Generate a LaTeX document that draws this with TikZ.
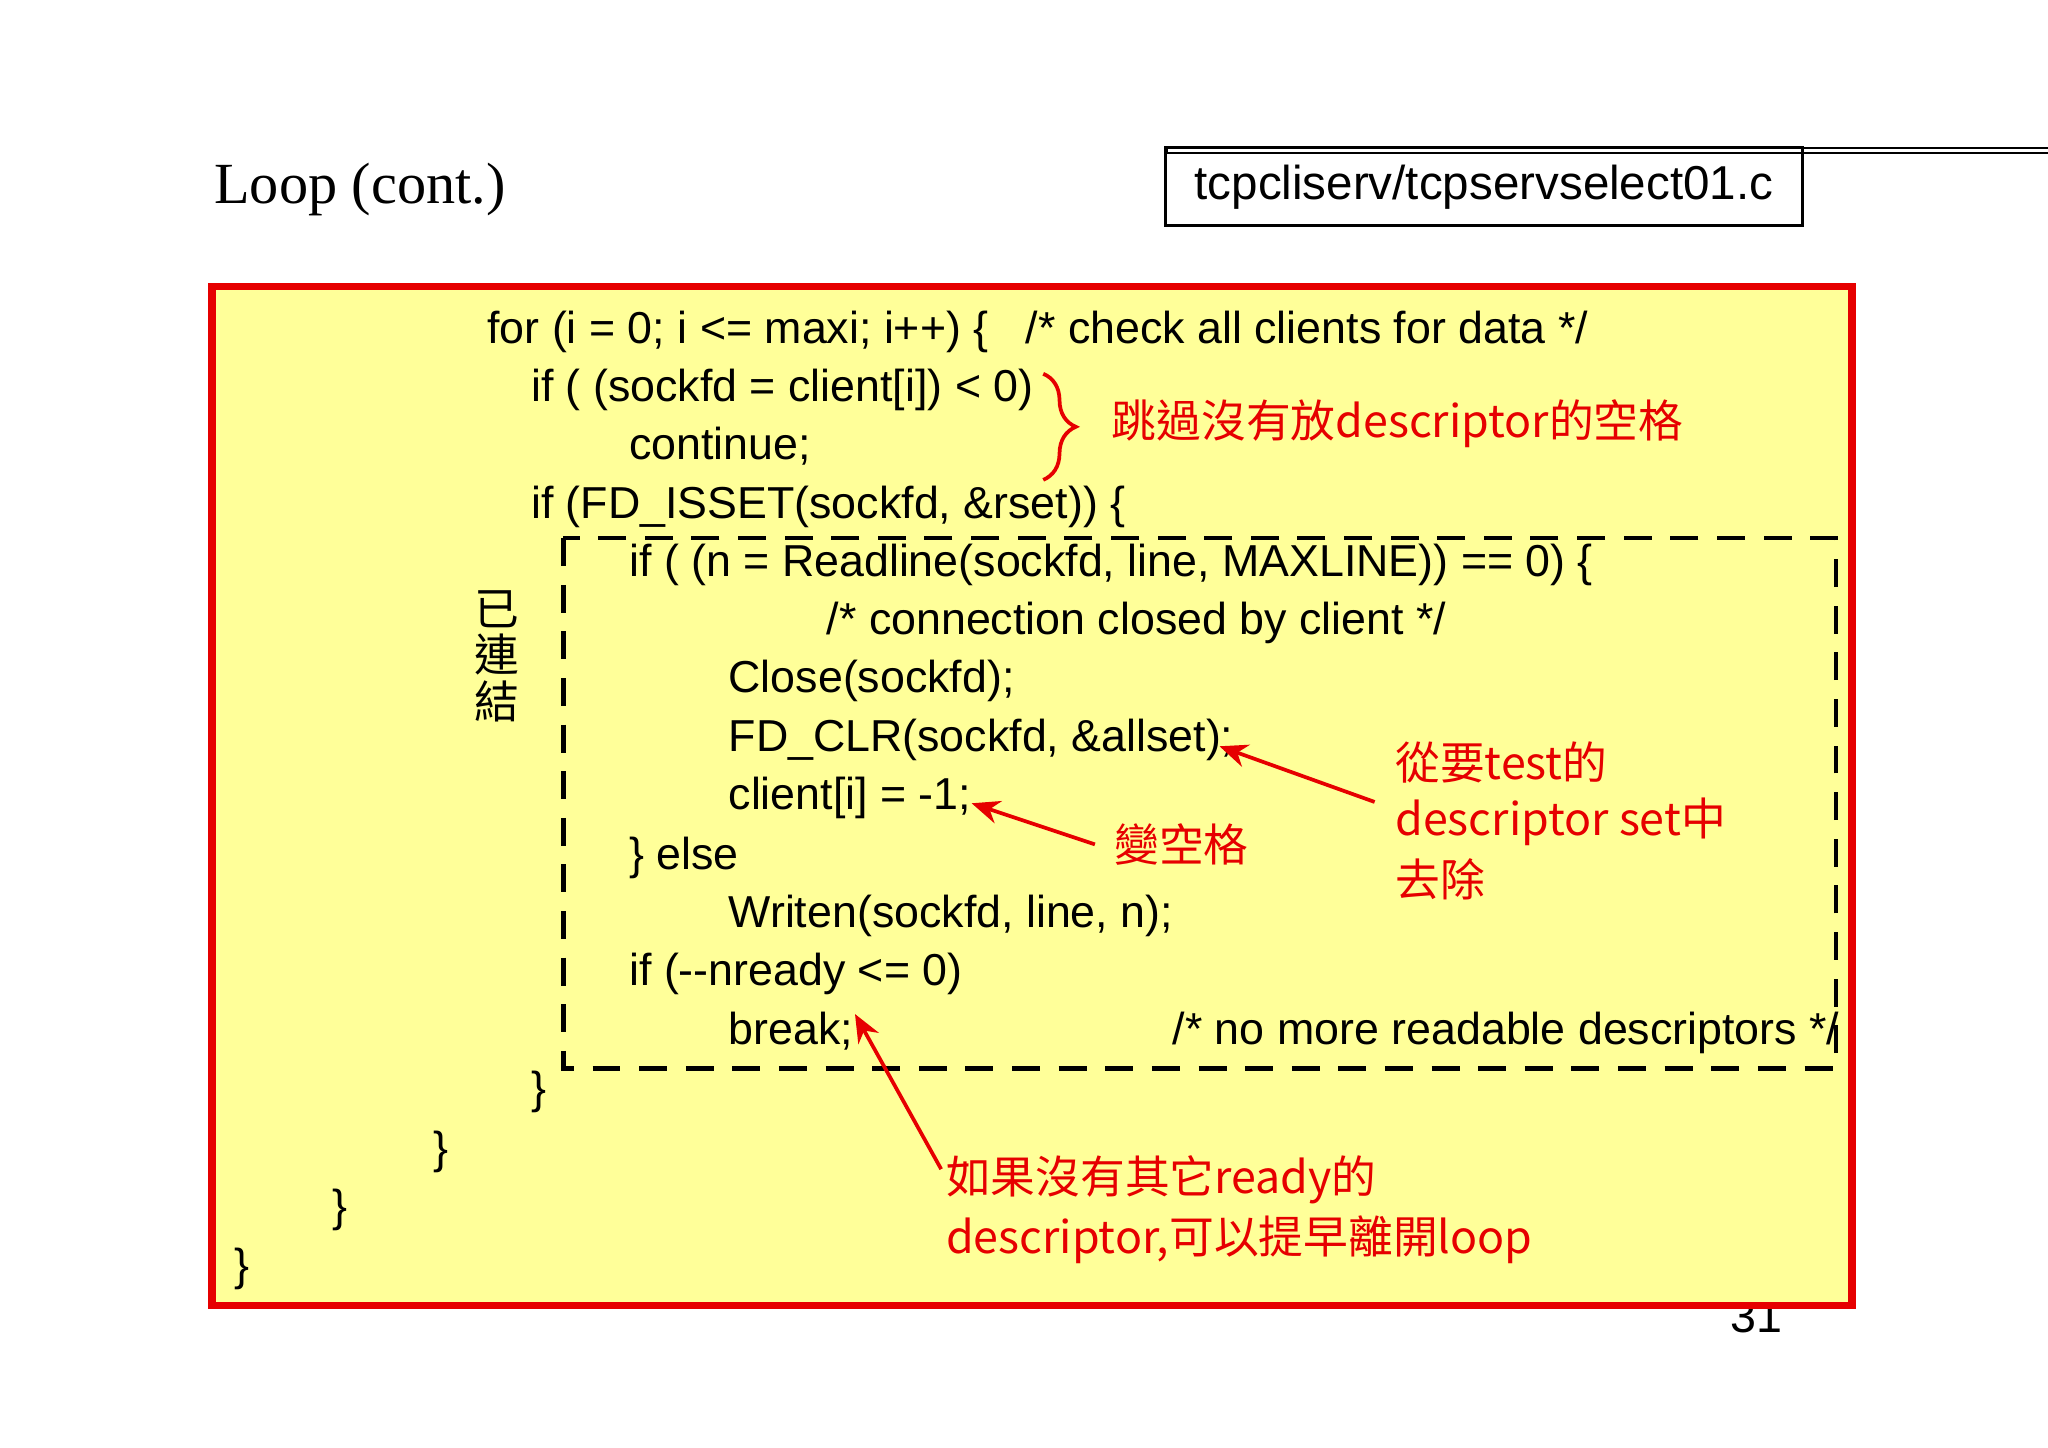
\documentclass[tikz,border=0pt]{standalone}
\usepackage{fontspec}
\setmainfont{Liberation Sans}
\newfontfamily\codefont{Liberation Sans}
\newfontfamily\serifont{Liberation Serif}
\newfontfamily\cjk{Noto Sans CJK TC}
\usetikzlibrary{arrows.meta,decorations.pathreplacing}
\definecolor{boxyellow}{RGB}{255,255,153}
\definecolor{annred}{RGB}{230,0,0}
\begin{document}
\begin{tikzpicture}[x=0.01cm,y=-0.01cm,
  code/.style={anchor=west,inner sep=0pt,font=\codefont\fontsize{9.6}{11}\selectfont,text height=7pt,text depth=2pt},
  ann/.style={anchor=west,inner sep=0pt,text=annred,font=\cjk\fontsize{9.6}{11}\selectfont},
  arr/.style={draw=annred,line width=0.8pt,-{Stealth[length=6pt,width=5pt]}}]
\useasboundingbox (0,0) rectangle (1545,1092);
\fill[white] (0,0) rectangle (1545,1092);
\node[anchor=west,inner sep=0pt,font=\serifont\fontsize{12.5}{14}\selectfont] (title) at (161,143) {Loop (cont.)};
\node[anchor=center,font=\fontsize{10}{12}\selectfont] (pg) at (1325,993) {31};
\node[draw=black,line width=0.5pt,minimum width=481\pgflinewidth,inner sep=0pt,anchor=north west] (fbox) at (879,111) {};
\draw[line width=0.6pt] (879,111) rectangle (1360,170);
\node[anchor=center,inner sep=0pt,font=\fontsize{10.2}{12}\selectfont] (fname) at (1119.5,141) {tcpcliserv/tcpservselect01.c};
\draw[annred,line width=1.6pt,fill=boxyellow] (160,216) rectangle (1397,985);
\draw[dashed,line width=1pt,dash pattern=on 6pt off 4pt] (425,406) rectangle (1385,806);
\node[code] (l1) at (367,250) {for (i = 0; i <= maxi; i++) \{\ \ \ /* check all clients for data */};
\node[code] (l2) at (400,294) {if ( (sockfd = client[i]) < 0)};
\node[code] (l3) at (474,338) {continue;};
\node[code] (l4) at (400,382) {if (FD\_ISSET(sockfd, \&rset)) \{};
\node[code] (l5) at (474,426) {if ( (n = Readline(sockfd, line, MAXLINE)) == 0) \{};
\node[code] (l6) at (623,470) {/* connection closed by client */};
\node[code] (l7) at (549,514) {Close(sockfd);};
\node[code] (l8) at (549,558) {FD\_CLR(sockfd, \&allset);};
\node[code] (l9) at (549,602) {client[i] = -1;};
\node[code] (l10) at (474,647) {\} else};
\node[code] (l11) at (549,691) {Writen(sockfd, line, n);};
\node[code] (l12) at (474,735) {if (-{}-nready <= 0)};
\node[code] (l13) at (549,779) {break;};
\node[code] (l13b) at (884,779) {/* no more readable descriptors */};
\node[code] (l14) at (400,824) {\}};
\node[code] (l15) at (326,869) {\}};
\node[code] (l16) at (250,913) {\}};
\node[code] (l17) at (176,957) {\}};
\node[anchor=center,inner sep=0pt,font=\cjk\fontsize{9.6}{11}\selectfont,align=center] (conn) at (375,495) {已\\[-1pt]連\\[-1pt]結};
\draw[annred,line width=0.8pt,decorate,decoration={brace,amplitude=7pt}] (787,282) -- (787,362);
\node[ann] (a1) at (838,320) {跳過沒有放descriptor的空格};
\node[ann] (a2) at (1052,575) {從要test的};
\node[ann] (a3) at (1052,620) {descriptor set中};
\node[ann] (a4) at (1052,663) {去除};
\node[ann] (a5) at (840,637) {變空格};
\node[ann] (a6) at (713,890) {如果沒有其它ready的};
\node[ann] (a7) at (713,935) {descriptor,可以提早離開loop};
\coordinate (t8) at (920,563);
\coordinate (t9) at (733,606);
\coordinate (t13) at (645,765);
\draw[arr] (1037,605) -- (t8);
\draw[arr] (a5.west) ++(-14,0) -- (t9);
\draw[arr] (a6.west) ++(-3,-8) -- (t13);
\end{tikzpicture}
\end{document}
